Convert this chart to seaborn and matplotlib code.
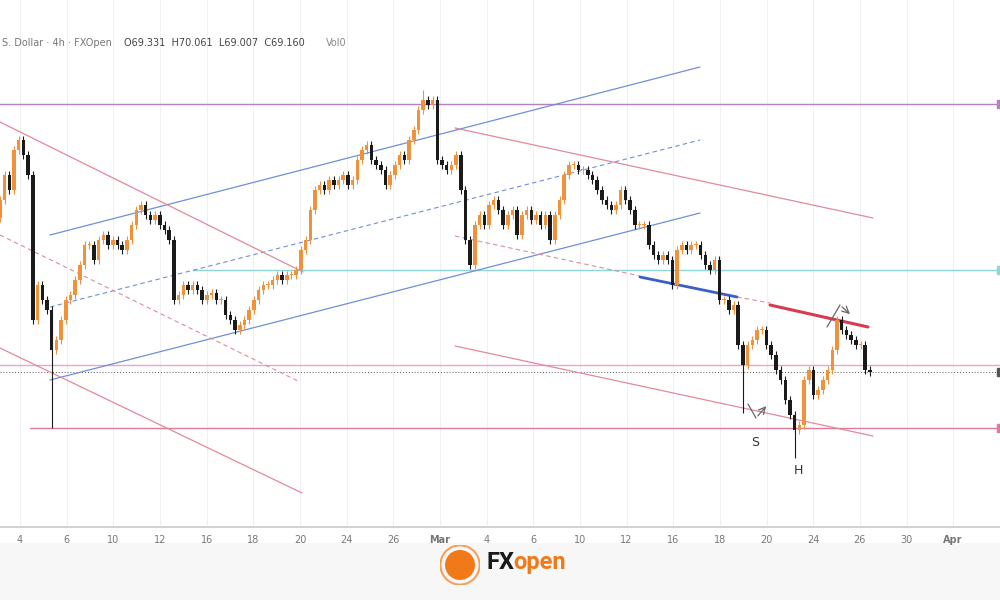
import numpy as np
import pandas as pd
import matplotlib
matplotlib.use("Agg")
import matplotlib.pyplot as plt
import seaborn as sns
from matplotlib.patches import Circle, Rectangle

sns.set_theme(style="white")
plt.rcParams['font.family'] = ['DejaVu Sans']

# 4h closes (price units)
closes = [
    70.88, 71.13, 70.98, 71.38, 71.48, 71.33, 71.13, 69.68, 70.03, 69.88, 69.78, 69.38,
    69.48, 69.68, 69.88, 69.93, 70.08, 70.23, 70.43, 70.43, 70.28, 70.48, 70.53, 70.43,
    70.48, 70.43, 70.38, 70.48, 70.63, 70.78, 70.83, 70.73, 70.68, 70.73, 70.63, 70.58,
    70.48, 69.88, 69.93, 70.03, 69.98, 70.03, 69.98, 69.88, 69.93, 69.95, 69.88, 69.88,
    69.73, 69.68, 69.58, 69.63, 69.68, 69.78, 69.88, 69.98, 70.03, 70.03, 70.08, 70.13,
    70.08, 70.13, 70.13, 70.18, 70.38, 70.48, 70.78, 70.98, 71.03, 70.98, 71.08, 71.03,
    71.08, 71.13, 71.03, 71.08, 71.28, 71.38, 71.43, 71.28, 71.23, 71.18, 71.03, 71.13,
    71.23, 71.33, 71.28, 71.48, 71.58, 71.78, 71.88, 71.83, 71.88, 71.28, 71.23, 71.18,
    71.23, 71.33, 70.98, 70.48, 70.23, 70.63, 70.73, 70.63, 70.83, 70.88, 70.78, 70.63,
    70.73, 70.78, 70.53, 70.73, 70.78, 70.68, 70.73, 70.63, 70.73, 70.48, 70.73, 70.88,
    71.13, 71.23, 71.23, 71.18, 71.18, 71.13, 71.08, 70.98, 70.88, 70.83, 70.78, 70.83,
    70.98, 70.88, 70.78, 70.63, 70.63, 70.63, 70.43, 70.33, 70.28, 70.33, 70.28, 70.03,
    70.38, 70.43, 70.38, 70.43, 70.43, 70.33, 70.23, 70.18, 70.28, 69.88, 69.88, 69.78,
    69.83, 69.43, 69.23, 69.43, 69.48, 69.58, 69.58, 69.43, 69.33, 69.18, 69.08, 68.88,
    68.73, 68.58, 68.63, 69.08, 69.18, 68.93, 68.98, 69.08, 69.18, 69.38, 69.68, 69.58,
    69.53, 69.48, 69.43, 69.43, 69.18, 69.16,
]
first_open = 70.70
tick_labels = ["4", "6", "10", "12", "16", "18", "20", "24", "26", "Mar", "4", "6",
               "10", "12", "16", "18", "20", "24", "26", "30", "Apr"]
header = "S. Dollar · 4h · FXOpen"
ohlc_text = "O69.331  H70.061  L69.007  C69.160"

closes = np.array(closes)
opens = np.concatenate([[first_open], closes[:-1]])
highs = np.maximum(opens, closes) + 0.04
lows = np.minimum(opens, closes) - 0.04
# notable wicks
i_feb = int(np.argmin(closes[:20])); lows[i_feb] = 68.60
i_h = int(np.argmin(closes)); lows[i_h] = 68.30
i_top = int(np.argmax(closes)); highs[i_top] = 71.98
i_s = 150 + int(np.argmin(closes[150:162])); lows[i_s] = 68.75

n = len(closes)
xs = np.linspace(-0.86, 36.43, n)
df = pd.DataFrame({"x": xs, "open": opens, "close": closes, "high": highs, "low": lows})
df["up"] = df["close"] >= df["open"]


def px(x, y):
    return (x - 20) / 23.33, 72.88 - y / 100


fig = plt.figure(figsize=(10, 6), dpi=100)
ax = fig.add_axes([0, 1 - 527 / 600, 1, 527 / 600])
ax.set_xlim(-20 / 23.33, 980 / 23.33)
ax.set_ylim(72.88 - 527 / 100, 72.88)

for k in range(len(tick_labels)):
    ax.axvline(2 * k, color="#f0f0f3", lw=0.8, zorder=0)

up_c, dn_c = "#f0923c", "#1a1a1a"
for _, r in df.iterrows():
    c = up_c if r["up"] else dn_c
    ax.vlines(r["x"], r["low"], r["high"], color=c, lw=0.8, zorder=3)
    b0, b1 = sorted([r["open"], r["close"]])
    ax.add_patch(Rectangle((r["x"] - 0.075, b0), 0.15, max(b1 - b0, 0.012),
                           color=c, lw=0, zorder=4))


def seg(p0, p1, **kw):
    a, b = px(*p0), px(*p1)
    ax.plot([a[0], b[0]], [a[1], b[1]], **kw)


# horizontal levels
seg((0, 104), (1000, 104), color="#b57fc0", lw=1.0)
seg((0, 365), (1000, 365), color="#e6a8c6", lw=1.0)
seg((30, 428), (1000, 428), color="#e07a9a", lw=1.0)
seg((193, 270), (1000, 270), color="#8fd6d6", lw=1.0)
seg((0, 372), (1000, 372), color="#555555", lw=0.7, ls=(0, (1, 2)))

# blue ascending channel
blue = "#6f8fd8"
seg((50, 235), (700, 67), color=blue, lw=0.9)
seg((50, 380), (700, 213), color=blue, lw=0.9)
seg((50, 307), (700, 140), color=blue, lw=0.8, ls=(0, (4, 3)))
# left red descending channel
red = "#e08a9a"
seg((0, 122), (303, 272), color=red, lw=0.9)
seg((0, 348), (302, 493), color=red, lw=0.9)
seg((0, 235), (300, 382), color=red, lw=0.8, ls=(0, (4, 3)))
# right red descending channel
seg((455, 128), (873, 218), color=red, lw=0.9)
seg((455, 346), (873, 436), color=red, lw=0.9)
seg((455, 236), (640, 276), color=red, lw=0.8, ls=(0, (4, 3)))
seg((737, 297), (770, 303), color=red, lw=0.8, ls=(0, (4, 3)))
seg((640, 277), (737, 297), color="#3a5fc8", lw=2.0)
seg((770, 305), (868, 327), color="#d83a50", lw=2.2)

# arrows
for pts in [[(748, 404), (756, 418), (768, 404)], [(827, 327), (840, 305), (852, 316)]]:
    seg(pts[0], pts[1], color="#666666", lw=0.9)
    a, b = px(*pts[1]), px(*pts[2])
    ax.annotate("", xy=b, xytext=a,
                arrowprops=dict(arrowstyle="->", color="#666666", lw=0.9))
ax.text(*px(755, 442), "S", ha="center", va="center", fontsize=9, color="#333333")
ax.text(*px(798, 470), "H", ha="center", va="center", fontsize=9, color="#333333")

# right axis markers
for y, c in [(104, "#b57fc0"), (270, "#8fd6d6"), (372, "#555555"), (428, "#e07a9a")]:
    ax.add_patch(Rectangle(px(997, y + 4), 0.2, 0.08, color=c, zorder=6, clip_on=False))

ax.set_xticks([2 * k for k in range(len(tick_labels))])
ax.set_xticklabels(tick_labels, fontsize=7, color="#777777")
for t in ax.get_xticklabels():
    if t.get_text() in ("Mar", "Apr"):
        t.set_fontweight("bold")
ax.tick_params(axis="x", length=0, pad=6)
ax.set_yticks([])
for s in ["top", "left", "right"]:
    ax.spines[s].set_visible(False)
ax.spines["bottom"].set_color("#cccccc")

fig.text(0.002, 0.928, header, fontsize=7, color="#777777", va="center")
fig.text(0.124, 0.928, ohlc_text, fontsize=7, color="#444444", va="center")
fig.text(0.326, 0.928, "Vol0", fontsize=7, color="#888888", va="center")

# footer
fig.patches.append(Rectangle((0, 0), 1, 0.095, transform=fig.transFigure,
                             color="#f7f7f7", zorder=-1))
lax = fig.add_axes([0.44, 0.025, 0.04, 0.0667])
lax.set_xlim(-1, 1); lax.set_ylim(-1, 1); lax.axis("off")
lax.add_patch(Circle((0, 0), 0.98, facecolor="none", edgecolor="#f5a05a", lw=1.5))
lax.add_patch(Circle((0, 0), 0.75, facecolor="#f07a1a", edgecolor="none"))
fig.text(0.487, 0.062, "FX", fontsize=17, fontweight="bold", color="#1a1a1a",
         va="center", family="Roboto")
fig.text(0.513, 0.062, "open", fontsize=17, fontweight="bold", color="#f07a1a",
         va="center", family="Roboto")

fig.savefig("out.png", dpi=100)
